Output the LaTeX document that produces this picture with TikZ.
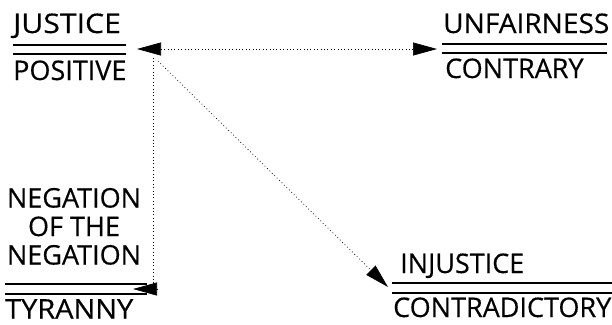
\documentclass[tikz,border=0pt]{standalone}
\usepackage{fontspec}
\setmainfont{Open Sans}[FakeBold=0.4]
\usetikzlibrary{arrows.meta}
\usepackage{tkz-euclide}

\tikzset{
  word/.style={font=\fontsize{27bp}{28.5bp}\selectfont, inner sep=0pt, anchor=base west},
  rule/.style={line width=1.6bp},
  dots/.style={line width=0.7bp, dash pattern=on 0.8bp off 2.6bp, -{Triangle[length=24bp,width=13bp]}},
}

\begin{document}
\begin{tikzpicture}[x=1bp, y=-1bp]
\useasboundingbox (0,0) rectangle (612,324);

%% 定义箭头端点(a/b/<name>)
\tkzDefPoints{137/49/J, 437/49/U, 153/58/V, 133/289/T, 158/61/D, 388/287/I}

%% 左上:正
\node[word, xscale=1.12] (justice)  at (13,33) {JUSTICE};
\node[word] (positive) at (13,80) {POSITIVE};
\draw[rule] (13,45) -- (126,45);
\draw[rule] (13,54) -- (126,54);

%% 右上:反
\node[word, xscale=1.04] (unfair)   at (443,33) {UNFAIRNESS};
\node[word] (contrary) at (445,78) {CONTRARY};
\draw[rule] (442,44) -- (607,44);
\draw[rule] (442,53) -- (607,53);

%% 左下:否定之否定
\node[word, align=center, anchor=south] (negation) at (74,265) {NEGATION\\OF THE\\NEGATION};
\node[word, xscale=1.07] (tyranny) at (5,318.5) {TYRANNY};
\draw[rule] (5,284) -- (147,284);
\draw[rule] (5,294) -- (147,294);

%% 右下:矛盾
\node[word] (injustice) at (400,273) {INJUSTICE};
\node[word] (contra)    at (393,317) {CONTRADICTORY};
\draw[rule] (392,283) -- (612,283);
\draw[rule] (392,293) -- (612,293);

%% 虚线箭头
\draw[dots, {Triangle[length=24bp,width=13bp]}-{Triangle[length=24bp,width=13bp]}] (J) -- (U);
\draw[dots] (V) |- (T);
\draw[dots] (D) -- (I);

\end{tikzpicture}
\end{document}
